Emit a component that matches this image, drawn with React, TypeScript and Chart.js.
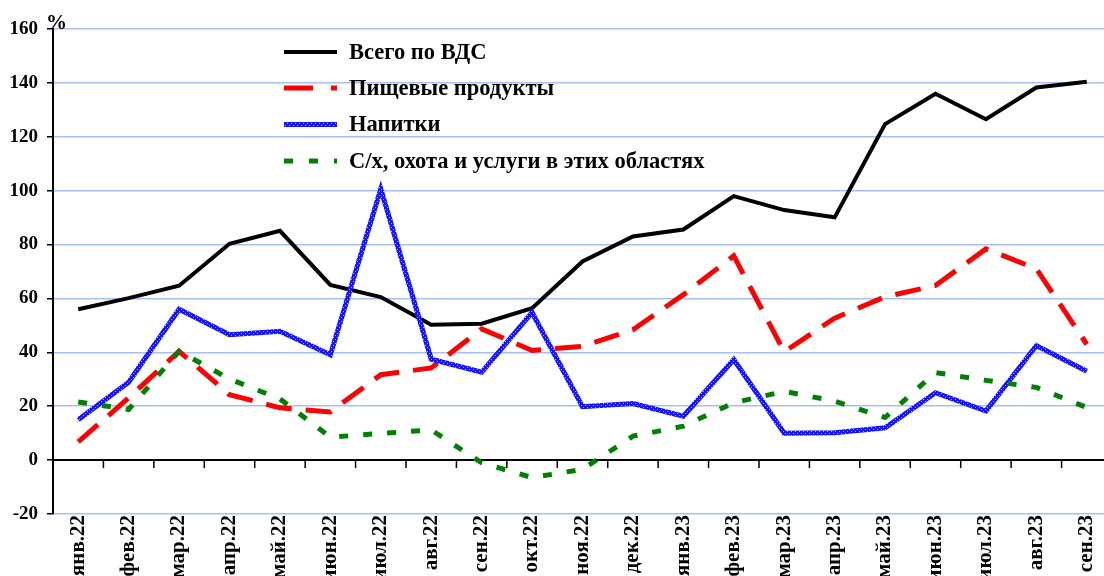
import React, { useEffect, useRef } from "react";
import { Chart, registerables } from "chart.js";

Chart.register(...registerables);

const labels = ["янв.22", "фев.22", "мар.22", "апр.22", "май.22", "июн.22", "июл.22", "авг.22", "сен.22", "окт.22", "ноя.22", "дек.22", "янв.23", "фев.23", "мар.23", "апр.23", "май.23", "июн.23", "июл.23", "авг.23", "сен.23"];

const totalGva = [56, 60.1, 64.7, 80.3, 85.1, 65, 60.5, 50.2, 50.6, 56.4, 73.7, 83, 85.6, 98, 92.8, 90.1, 124.7, 136, 126.5, 138.3, 140.4];
const foodProducts = [6.8, 23.1, 40.4, 24.3, 19.4, 17.9, 31.7, 34.2, 48.7, 40.7, 42.2, 48.4, 61.4, 75.8, 40.2, 52.7, 60.6, 64.8, 78.4, 71, 43];
const beverages = [15, 28.9, 56, 46.5, 47.8, 39.1, 100.6, 37.5, 32.6, 54.8, 19.8, 21, 16.3, 37.3, 10, 10.2, 12, 25, 18.2, 42.5, 33];
const agriculture = [21.6, 18.8, 40.4, 30.1, 22.7, 8.5, 9.9, 11.2, -1, -6.5, -3.4, 8.9, 12.6, 21.3, 25.5, 21.9, 15.8, 32.5, 29.6, 27, 19.5];

const seriesNames = ["Всего по ВДС", "Пищевые продукты", "Напитки", "С/х, охота и услуги в этих областях"];

const yMin = -20;
const yMax = 160;
const yStep = 20;

const FONT = '"Liberation Serif", "Times New Roman", serif';

function makePattern(ctx: CanvasRenderingContext2D) {
  const c = document.createElement("canvas");
  c.width = 4;
  c.height = 4;
  const p = c.getContext("2d")!;
  p.fillStyle = "#1414ff";
  p.fillRect(0, 0, 4, 4);
  p.fillStyle = "#b8b8ff";
  p.fillRect(1, 1, 1, 1);
  p.fillRect(3, 3, 1, 1);
  return ctx.createPattern(c, "repeat")!;
}

export default function App() {
  const ref = useRef<HTMLCanvasElement | null>(null);

  useEffect(() => {
    const canvas = ref.current!;
    const ctx = canvas.getContext("2d")!;
    const bluePattern = makePattern(ctx);

    const styles = [
      { color: "#000000", width: 4, dash: [] as number[] },
      { color: "#ff0000", width: 5, dash: [26, 14] },
      { color: bluePattern as any, width: 5, dash: [] as number[] },
      { color: "#008000", width: 5, dash: [9, 15] },
    ];

    const zeroAxisPlugin = {
      id: "zeroAxis",
      beforeDatasetsDraw(chart: any) {
        const c = chart.ctx;
        const x = chart.scales.x;
        const y = chart.scales.y;
        const y0 = y.getPixelForValue(0);
        c.save();
        c.strokeStyle = "#000";
        c.lineWidth = 2;
        c.beginPath();
        c.moveTo(chart.chartArea.left, y0);
        c.lineTo(chart.chartArea.right, y0);
        c.stroke();
        c.lineWidth = 1.5;
        for (let i = 0; i < labels.length - 1; i++) {
          const bx = (x.getPixelForValue(i) + x.getPixelForValue(i + 1)) / 2;
          c.beginPath();
          c.moveTo(bx, y0);
          c.lineTo(bx, y0 + 8);
          c.stroke();
        }
        c.restore();
      },
    };

    const legendPlugin = {
      id: "customLegend",
      afterDraw(chart: any) {
        const c = chart.ctx;
        c.save();
        c.fillStyle = "#000";
        c.font = `bold 21px ${FONT}`;
        c.textAlign = "left";
        c.textBaseline = "alphabetic";
        c.fillText("%", 46, 29);

        const rows = [52, 88, 124.5, 161];
        const legendDash = [[], [29, 18], [], [9, 16]];
        for (let i = 0; i < seriesNames.length; i++) {
          const yy = rows[i];
          c.strokeStyle = styles[i].color;
          c.lineWidth = styles[i].width;
          c.setLineDash(legendDash[i]);
          c.beginPath();
          c.moveTo(284, yy);
          c.lineTo(337, yy);
          c.stroke();
          c.setLineDash([]);
          c.fillStyle = "#000";
          c.font = `bold 22.5px ${FONT}`;
          c.textBaseline = "middle";
          c.fillText(seriesNames[i], 349, yy + 1);
        }
        c.restore();
      },
    };

    const data = [totalGva, foodProducts, beverages, agriculture];

    const chart = new Chart(canvas, {
      type: "line",
      data: {
        labels,
        datasets: data.map((d, i) => ({
          label: seriesNames[i],
          data: d,
          borderColor: styles[i].color,
          borderWidth: styles[i].width,
          borderDash: styles[i].dash,
          pointRadius: 0,
          tension: 0,
          fill: false,
          order: 4 - i,
          borderCapStyle: "butt" as const,
          borderJoinStyle: "miter" as const,
        })),
      },
      options: {
        responsive: false,
        animation: false,
        devicePixelRatio: 1,
        layout: { padding: { top: 29, left: 0, right: 0, bottom: 0 } },
        plugins: { legend: { display: false }, tooltip: { enabled: false }, title: { display: false } },
        scales: {
          x: {
            type: "category",
            offset: true,
            grid: { display: false, drawTicks: false },
            border: { display: false },
            ticks: {
              autoSkip: false,
              maxRotation: 90,
              minRotation: 90,
              padding: 1,
              color: "#000",
              font: { family: FONT, size: 21, weight: "bold" },
            },
            afterFit(scale: any) {
              scale.height = 62;
              scale.paddingLeft = 0;
              scale.paddingRight = 0;
            },
          },
          y: {
            min: yMin,
            max: yMax,
            ticks: {
              stepSize: yStep,
              padding: 9,
              color: "#000",
              font: { family: FONT, size: 19, weight: "bold" },
            },
            grid: {
              color: "#a8bff5",
              lineWidth: 1.5,
              tickColor: "#000",
              tickLength: 6,
              tickWidth: 1.5,
            },
            border: { display: true, color: "#000", width: 2 },
            afterFit(scale: any) {
              scale.width = 53;
              scale.paddingTop = 0;
              scale.paddingBottom = 0;
            },
          },
        },
      },
      plugins: [zeroAxisPlugin, legendPlugin],
    });

    return () => chart.destroy();
  }, []);

  return (
    <div style={{ position: "fixed", left: 0, top: 0, width: 1104, height: 576, overflow: "hidden", background: "#fff" }}>
      <canvas ref={ref} width={1112} height={576} style={{ display: "block", width: 1112, height: 576 }} />
    </div>
  );
}
